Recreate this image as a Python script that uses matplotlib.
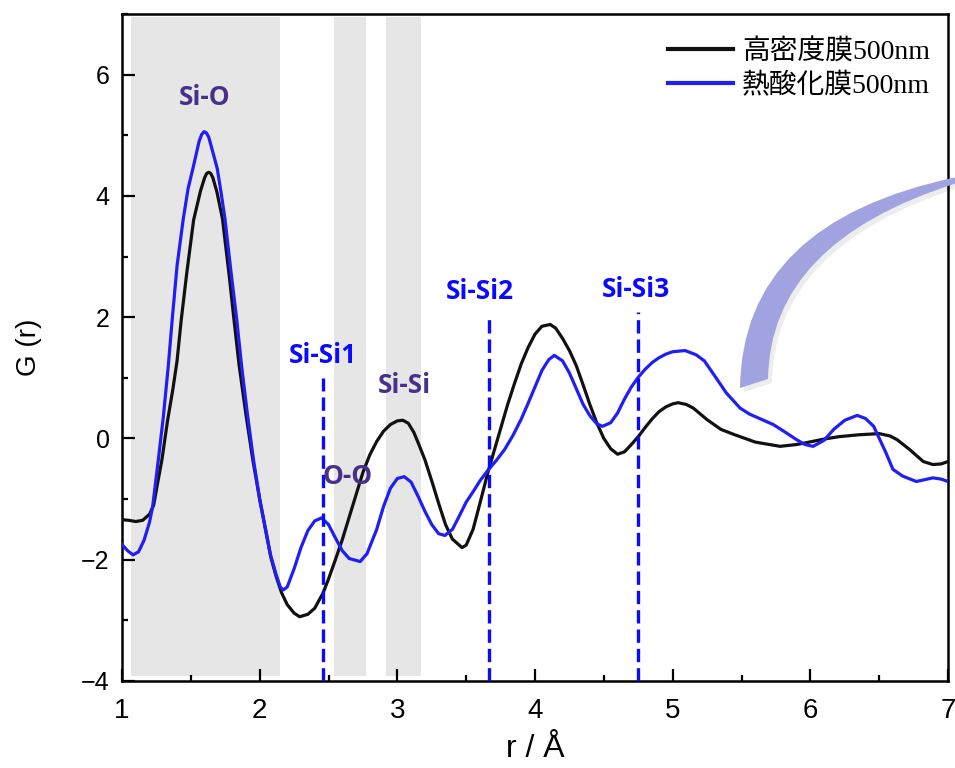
import matplotlib
matplotlib.use("Agg")
import matplotlib.pyplot as plt
from matplotlib.patches import PathPatch
from matplotlib.path import Path
from matplotlib.ticker import MultipleLocator

# ---------------- data ----------------
x_dense = [1.00, 1.05, 1.10, 1.15, 1.20, 1.23, 1.26, 1.29, 1.33, 1.37, 1.40, 1.43, 1.47, 1.52, 1.57,
           1.60, 1.615, 1.63, 1.645, 1.66, 1.69, 1.73, 1.78, 1.81, 1.85, 1.90, 1.95, 2.00, 2.05, 2.08, 2.12, 2.16,
           2.20, 2.25, 2.29, 2.35, 2.40, 2.46, 2.50, 2.55, 2.60, 2.65, 2.70, 2.75, 2.80, 2.85, 2.90,
           2.95, 3.00, 3.04, 3.08, 3.12, 3.16, 3.20, 3.25, 3.30, 3.35, 3.40, 3.47, 3.50, 3.55, 3.60,
           3.66, 3.70, 3.75, 3.80, 3.85, 3.90, 3.95, 4.00, 4.05, 4.11, 4.15, 4.20, 4.25, 4.30, 4.35,
           4.40, 4.45, 4.50, 4.55, 4.60, 4.65, 4.70, 4.75, 4.80, 4.85, 4.90, 4.95, 5.00, 5.04, 5.10,
           5.15, 5.25, 5.35, 5.44, 5.60, 5.78, 5.90, 5.97, 6.10, 6.21, 6.35, 6.50, 6.58, 6.63, 6.72,
           6.82, 6.89, 6.95, 7.00]
g_dense = [-1.34, -1.35, -1.37, -1.35, -1.25, -1.10, -0.72, -0.35, 0.28, 0.82, 1.28, 1.95, 2.72, 3.60, 4.08,
           4.30, 4.37, 4.39, 4.37, 4.30, 4.06, 3.62, 2.66, 2.03, 1.22, 0.40, -0.35, -1.00, -1.58, -1.95, -2.28, -2.55,
           -2.74, -2.88, -2.94, -2.90, -2.80, -2.55, -2.32, -2.00, -1.67, -1.30, -0.93, -0.56, -0.27, -0.05, 0.12,
           0.23, 0.29, 0.30, 0.25, 0.10, -0.12, -0.35, -0.70, -1.07, -1.42, -1.66, -1.80, -1.76, -1.50, -1.07,
           -0.54, -0.23, 0.16, 0.55, 0.90, 1.23, 1.50, 1.72, 1.85, 1.88, 1.82, 1.65, 1.45, 1.20, 0.88,
           0.55, 0.25, 0.00, -0.17, -0.26, -0.22, -0.10, 0.03, 0.18, 0.32, 0.44, 0.52, 0.57, 0.59, 0.56,
           0.50, 0.31, 0.15, 0.07, -0.06, -0.13, -0.10, -0.07, -0.01, 0.03, 0.06, 0.08, 0.04, -0.02, -0.18,
           -0.38, -0.43, -0.42, -0.38]

x_thermal = [1.00, 1.04, 1.08, 1.12, 1.16, 1.20, 1.223, 1.264, 1.30, 1.336, 1.365, 1.40, 1.445, 1.48, 1.518,
             1.56, 1.578, 1.596, 1.613, 1.63, 1.66, 1.692, 1.72, 1.748, 1.79, 1.833, 1.869, 1.91, 1.955, 2.00, 2.05, 2.08,
             2.12, 2.15, 2.17, 2.20, 2.25, 2.30, 2.35, 2.40, 2.45, 2.50, 2.55, 2.60, 2.65, 2.73, 2.78,
             2.85, 2.90, 2.95, 3.00, 3.05, 3.10, 3.15, 3.20, 3.25, 3.30, 3.345, 3.40, 3.45, 3.50, 3.55,
             3.60, 3.66, 3.72, 3.78, 3.84, 3.90, 3.95, 4.00, 4.05, 4.10, 4.14, 4.20, 4.25, 4.30, 4.35,
             4.40, 4.45, 4.49, 4.55, 4.60, 4.65, 4.70, 4.75, 4.80, 4.85, 4.90, 4.95, 5.00, 5.09, 5.17,
             5.23, 5.30, 5.39, 5.49, 5.56, 5.65, 5.73, 5.82, 5.90, 5.96, 6.02, 6.10, 6.17, 6.25, 6.34,
             6.40, 6.46, 6.55, 6.60, 6.67, 6.77, 6.83, 6.89, 6.95, 7.00]
g_thermal = [-1.75, -1.85, -1.92, -1.87, -1.68, -1.38, -1.12, -0.35, 0.35, 1.19, 1.97, 2.85, 3.62, 4.12, 4.48,
             4.90, 5.01, 5.06, 5.04, 4.97, 4.72, 4.45, 4.05, 3.62, 2.78, 1.97, 1.19, 0.42, -0.35, -1.00, -1.60, -1.93,
             -2.25, -2.45, -2.50, -2.45, -2.15, -1.80, -1.52, -1.36, -1.31, -1.42, -1.64, -1.85, -1.98, -2.03, -1.90,
             -1.50, -1.12, -0.82, -0.66, -0.63, -0.72, -0.95, -1.20, -1.42, -1.57, -1.60, -1.50, -1.28, -1.05, -0.88,
             -0.70, -0.52, -0.36, -0.18, 0.05, 0.32, 0.58, 0.85, 1.12, 1.30, 1.37, 1.28, 1.08, 0.82, 0.56,
             0.37, 0.24, 0.20, 0.26, 0.42, 0.65, 0.85, 1.01, 1.14, 1.25, 1.33, 1.39, 1.43, 1.45, 1.38,
             1.28, 1.05, 0.75, 0.50, 0.40, 0.31, 0.23, 0.10, -0.02, -0.10, -0.13, -0.03, 0.15, 0.30, 0.38,
             0.33, 0.20, -0.24, -0.51, -0.62, -0.71, -0.68, -0.65, -0.67, -0.71]

series_labels = ["高密度膜500nm", "熱酸化膜500nm"]

# shaded bands (r ranges)
band_starts = [1.065, 2.54, 2.92]
band_ends = [2.147, 2.77, 3.17]

# dashed markers
marker_x = [2.46, 3.665, 4.75]
marker_top = [1.0, 2.03, 2.08]
marker_labels = ["Si-Si1", "Si-Si2", "Si-Si3"]
marker_label_pos = [(2.46, 1.37), (3.60, 2.43), (4.73, 2.45)]

peak_labels = ["Si-O", "Si-Si", "O-O"]
peak_label_pos = [(1.60, 5.62), (3.05, 0.88), (2.64, -0.63)]

x_ticks = [1, 2, 3, 4, 5, 6, 7]
y_ticks = [-4, -2, 0, 2, 4, 6]

# ---------------- figure ----------------
W, H = 955, 768
fig = plt.figure(figsize=(W / 100, H / 100), dpi=100)
ax = fig.add_axes([122 / W, 1 - 681 / H, (948 - 122) / W, (681 - 14) / H])

for s, e in zip(band_starts, band_ends):
    ax.axvspan(s, e, ymin=0.0075, ymax=0.9955, color="#e6e6e6", lw=0, zorder=0)

ax.plot(x_dense, g_dense, color="#111111", lw=2.3, label=series_labels[0], zorder=3,
        solid_joinstyle="round")
ax.plot(x_thermal, g_thermal, color="#1f1ff5", lw=2.3, label=series_labels[1], zorder=3,
        solid_joinstyle="round")

for xm, top in zip(marker_x, marker_top):
    ax.plot([xm, xm], [-4, top], color="#0a0aff", lw=2.4, ls=(0, (4, 1.8)), zorder=4)

bold_font = ["Open Sans", "DejaVu Sans"]
for lab, (lx, ly) in zip(marker_labels, marker_label_pos):
    ax.text(lx, ly, lab, color="#0a0aff", fontsize=19, fontweight="bold",
            family=bold_font, ha="center", va="center", zorder=5)
for lab, (lx, ly) in zip(peak_labels, peak_label_pos):
    ax.text(lx, ly, lab, color="#48308a", fontsize=19, fontweight="bold",
            family=bold_font, ha="center", va="center", zorder=5)

ax.set_xlim(1, 7)
ax.set_ylim(-4, 7)
ax.set_xticks(x_ticks)
ax.set_yticks(y_ticks)
ax.xaxis.set_minor_locator(MultipleLocator(0.5))
ax.yaxis.set_minor_locator(MultipleLocator(1))
ax.tick_params(which="major", direction="in", length=9, width=1.6, top=False, right=False)
ax.tick_params(which="minor", direction="in", length=4.5, width=1.6, top=False, right=False)
ax.tick_params(axis="x", which="major", pad=12, labelsize=20,
               labelfontfamily="Liberation Sans")
ax.tick_params(axis="y", which="major", pad=9, labelsize=18,
               labelfontfamily="Liberation Sans")
for sp in ax.spines.values():
    sp.set_linewidth(1.8)

ax.set_xlabel("r / Å", family=["Liberation Sans", "DejaVu Sans"], fontsize=23)
ax.xaxis.set_label_coords(0.5, -0.08)
ax.set_ylabel("G (r)", family=["Liberation Sans", "DejaVu Sans"], fontsize=20)
ax.yaxis.set_label_coords(-0.097, 0.5)

leg = ax.legend(loc="upper right", bbox_to_anchor=(0.995, 0.983), frameon=False,
                prop={"family": ["Liberation Serif", "Noto Sans CJK JP"], "size": 20},
                handlelength=2.35, handletextpad=0.32, labelspacing=0.28, borderpad=0.0)
for ln in leg.get_lines():
    ln.set_linewidth(3)

# decorative curved sweep (figure pixel coordinates, quadratic Bezier edges)
def fp(px, py):
    return (px / W, 1 - py / H)

sweep_verts = [fp(740, 388), fp(742, 222), fp(957, 177),
               fp(957, 183), fp(770, 242), fp(768, 379), fp(740, 388)]
sweep_codes = [Path.MOVETO, Path.CURVE3, Path.CURVE3,
               Path.LINETO, Path.CURVE3, Path.CURVE3, Path.CLOSEPOLY]
shadow_verts = [(x + 4 / W, y - 4 / H) for x, y in sweep_verts]
fig.add_artist(PathPatch(Path(shadow_verts, sweep_codes), transform=fig.transFigure,
                         facecolor="#000000", alpha=0.07, lw=0, zorder=10))
fig.add_artist(PathPatch(Path(sweep_verts, sweep_codes), transform=fig.transFigure,
                         facecolor="#a1a3e0", lw=0, zorder=11))

fig.savefig("out.png", dpi=100)
